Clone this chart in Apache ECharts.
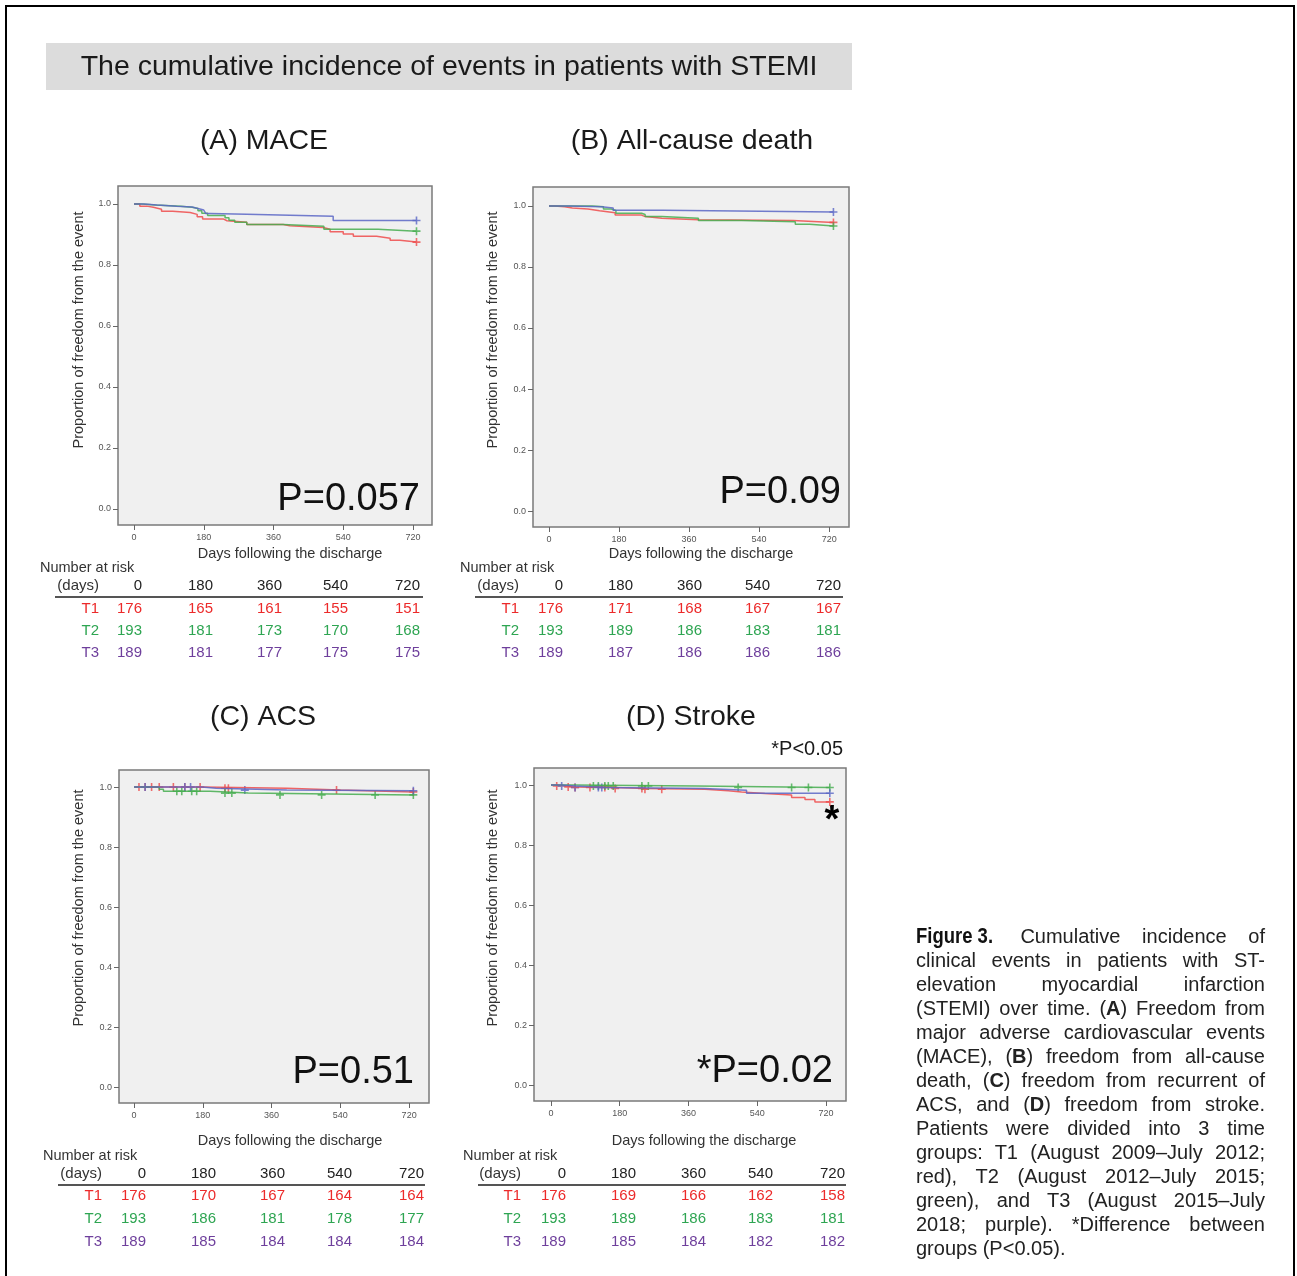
<!DOCTYPE html>
<html>
<head>
<meta charset="utf-8">
<title>The cumulative incidence of events in patients with STEMI</title>
<script src="https://cdn.jsdelivr.net/npm/echarts@6.0.0/dist/echarts.min.js"></script>
<style>
  html, body { margin: 0; padding: 0; background: #fff; }
  #main { position: absolute; left: 0; top: 0; width: 1297px; height: 1276px; }
  #frame { position: absolute; left: 5px; top: 5px; width: 1286px; height: 1300px;
           border: 2px solid #000; border-bottom: none; pointer-events: none; }
  #caption { position: absolute; left: 916px; top: 924px; width: 349px;
             font-family: "Liberation Sans", Arial, sans-serif; font-size: 20px;
             line-height: 24px; color: #222; }
  #caption div { text-align: justify; text-align-last: justify; }
  #caption div.last { text-align-last: left; }
  #caption .fig { display: inline-block; font-family: "Liberation Sans", Arial, sans-serif;
                  font-weight: bold; font-size: 22px; color: #111; transform: scaleX(0.84);
                  transform-origin: 0 50%; margin-right: -9px; }
</style>
</head>
<body>
<div id="main"></div>
<div id="frame"></div>
<div id="caption">
  <div><span class="fig">Figure 3.</span> Cumulative incidence of</div>
  <div>clinical events in patients with ST-</div>
  <div>elevation myocardial infarction</div>
  <div>(STEMI) over time. (<b>A</b>) Freedom from</div>
  <div>major adverse cardiovascular events</div>
  <div>(MACE), (<b>B</b>) freedom from all-cause</div>
  <div>death, (<b>C</b>) freedom from recurrent of</div>
  <div>ACS, and (<b>D</b>) freedom from stroke.</div>
  <div>Patients were divided into 3 time</div>
  <div>groups: T1 (August 2009–July 2012;</div>
  <div>red), T2 (August 2012–July 2015;</div>
  <div>green), and T3 (August 2015–July</div>
  <div>2018; purple). *Difference between</div>
  <div class="last">groups (P&lt;0.05).</div>
</div>
<script>
// tick values shared by all panels
const dayTicks = [0, 180, 360, 540, 720];
const propTicks = [0, 0.2, 0.4, 0.6, 0.8, 1.0];
const groups = ['T1', 'T2', 'T3'];

// (A) MACE - [day, proportion free of event]
const maceT1 = [[0,1],[15,0.993],[33,0.989],[50,0.983],[71,0.976],[100,0.972],[145,0.966],[163,0.958],[177,0.951],[230,0.945],[240,0.94],[291,0.933],[385,0.929],[402,0.923],[488,0.917],[506,0.909],[540,0.902],[566,0.894],[626,0.888],[661,0.881],[686,0.875],[729,0.875]];
const maceT2 = [[0,1],[20,0.997],[55,0.993],[120,0.989],[150,0.985],[165,0.978],[175,0.97],[190,0.962],[235,0.955],[245,0.947],[260,0.94],[291,0.933],[385,0.927],[490,0.917],[630,0.911],[729,0.911]];
const maceT3 = [[0,1],[25,0.997],[60,0.993],[110,0.99],[150,0.985],[165,0.98],[180,0.975],[185,0.969],[196,0.966],[291,0.96],[514,0.946],[729,0.946]];
const maceCensT1 = [729];
const maceCensT2 = [729];
const maceCensT3 = [729];

// (B) All-cause death
const deathT1 = [[0,1],[15,0.997],[40,0.993],[60,0.99],[100,0.984],[130,0.978],[170,0.97],[238,0.965],[247,0.96],[290,0.955],[384,0.952],[627,0.946],[731,0.946]];
const deathT2 = [[0,1],[110,0.997],[140,0.99],[160,0.985],[172,0.976],[238,0.972],[247,0.965],[290,0.96],[384,0.952],[495,0.948],[633,0.94],[670,0.934],[731,0.934]];
const deathT3 = [[0,1],[50,0.997],[135,0.993],[165,0.986],[294,0.98],[731,0.98]];
const deathCensT1 = [731];
const deathCensT2 = [731];
const deathCensT3 = [731];

// (C) ACS
const acsT1 = [[0,1],[178,0.996],[400,0.99],[537,0.984],[731,0.984]];
const acsT2 = [[0,1],[66,0.993],[77,0.986],[199,0.98],[299,0.974],[731,0.974]];
const acsT3 = [[0,1],[178,0.996],[215,0.99],[400,0.988],[731,0.988]];
const acsCensT1 = [13,29,46,66,103,133,173,238,247,530,731];
const acsCensT2 = [112,125,151,164,238,256,382,491,631,731];
const acsCensT3 = [29,133,148,290,731];

// (D) Stroke
const strokeT1 = [[0,1],[15,0.997],[45,0.994],[63,0.992],[168,0.989],[246,0.986],[403,0.981],[464,0.977],[499,0.972],[560,0.967],[630,0.959],[665,0.952],[691,0.944],[730,0.944]];
const strokeT2 = [[0,1],[60,0.997],[381,0.992],[730,0.992]];
const strokeT3 = [[0,1],[28,0.997],[63,0.992],[141,0.989],[400,0.983],[512,0.973],[730,0.973]];
const strokeCensT1 = [15,45,63,102,141,168,238,246,290,730];
const strokeCensT2 = [111,124,141,150,163,238,255,490,630,674,730];
const strokeCensT3 = [28,63,124,133,730];

// number at risk
const maceRiskT1 = [176,165,161,155,151];
const maceRiskT2 = [193,181,173,170,168];
const maceRiskT3 = [189,181,177,175,175];
const deathRiskT1 = [176,171,168,167,167];
const deathRiskT2 = [193,189,186,183,181];
const deathRiskT3 = [189,187,186,186,186];
const acsRiskT1 = [176,170,167,164,164];
const acsRiskT2 = [193,186,181,178,177];
const acsRiskT3 = [189,185,184,184,184];
const strokeRiskT1 = [176,169,166,162,158];
const strokeRiskT2 = [193,189,186,183,181];
const strokeRiskT3 = [189,185,184,182,182];

const lineColors = ['#ee4b4b', '#45ad4f', '#5a66c6'];
const textColors = ['#ec2a2a', '#2ea552', '#6e3f9c'];
const FONT = '"Liberation Sans", Arial, sans-serif';

const panels = [
  { title: '(A) MACE', titlePos: [264, 141], p: 'P=0.057', pPos: [420, 500],
    grid: { left: 118, top: 186, width: 314, height: 339 }, xr: [-41.3, 769], yr: [-0.0525, 1.059],
    curves: [maceT1, maceT2, maceT3], cens: [maceCensT1, maceCensT2, maceCensT3],
    risk: [maceRiskT1, maceRiskT2, maceRiskT3],
    yName: [79, 330], xName: [290, 554],
    tab: { narX: 40, narY: 568, head: 586, rows: [609, 631, 653], lab: 99, cols: [142, 213, 282, 348, 420], line: [55, 423, 597] } },
  { title: '(B) All-cause death', titlePos: [692, 141], p: 'P=0.09', pPos: [841, 493],
    grid: { left: 533, top: 187, width: 316, height: 340 }, xr: [-41.1, 771], yr: [-0.052, 1.062],
    curves: [deathT1, deathT2, deathT3], cens: [deathCensT1, deathCensT2, deathCensT3],
    risk: [deathRiskT1, deathRiskT2, deathRiskT3],
    yName: [493, 330], xName: [701, 554],
    tab: { narX: 460, narY: 568, head: 586, rows: [609, 631, 653], lab: 519, cols: [563, 633, 702, 770, 841], line: [475, 843, 597] } },
  { title: '(C) ACS', titlePos: [263, 717], p: 'P=0.51', pPos: [414, 1073],
    grid: { left: 119, top: 770, width: 310, height: 333 }, xr: [-39.3, 772], yr: [-0.053, 1.057],
    curves: [acsT1, acsT2, acsT3], cens: [acsCensT1, acsCensT2, acsCensT3],
    risk: [acsRiskT1, acsRiskT2, acsRiskT3],
    yName: [79, 908], xName: [290, 1141],
    tab: { narX: 43, narY: 1156, head: 1174, rows: [1196, 1219, 1242], lab: 102, cols: [146, 216, 285, 352, 424], line: [58, 425, 1185] } },
  { title: '(D) Stroke', titlePos: [691, 717], p: '*P=0.02', pPos: [833, 1072],
    grid: { left: 534, top: 768, width: 312, height: 333 }, xr: [-44.5, 772.4], yr: [-0.053, 1.057],
    curves: [strokeT1, strokeT2, strokeT3], cens: [strokeCensT1, strokeCensT2, strokeCensT3],
    risk: [strokeRiskT1, strokeRiskT2, strokeRiskT3],
    yName: [493, 908], xName: [704, 1141],
    tab: { narX: 463, narY: 1156, head: 1174, rows: [1196, 1219, 1242], lab: 521, cols: [566, 636, 706, 773, 845], line: [478, 846, 1185] } }
];

// value of a step curve at day t
function survAt(curve, t) {
  let v = curve[0][1];
  curve.forEach(([d, s]) => { if (d <= t) v = s; });
  return v;
}

function txt(x, y, text, size, opts) {
  opts = opts || {};
  return {
    type: 'text', x: x, y: y, rotation: opts.rotation || 0, silent: true,
    style: {
      text: text, fontSize: size, fontFamily: FONT, fontWeight: opts.weight || 'normal',
      fill: opts.color || '#1a1a1a', align: opts.align || 'center', verticalAlign: 'middle'
    }
  };
}

const grids = [], xAxes = [], yAxes = [], series = [];
const graphic = [
  { type: 'rect', shape: { x: 46, y: 43, width: 806, height: 47 }, style: { fill: '#dcdcdc' }, silent: true },
  txt(449, 67, 'The cumulative incidence of events in patients with STEMI', 28.5),
  txt(843, 749, '*P<0.05', 20, { align: 'right' }),
  txt(832, 822, '*', 38, { weight: 'bold', color: '#000' })
];

panels.forEach((pn, i) => {
  grids.push(Object.assign({ show: true, backgroundColor: '#f0f0f0', borderColor: '#7a7a7a', borderWidth: 1.5 }, pn.grid));
  xAxes.push({
    type: 'value', gridIndex: i, min: pn.xr[0], max: pn.xr[1], position: 'bottom',
    axisLine: { show: false, onZero: false }, splitLine: { show: false },
    axisTick: { show: true, length: 5, customValues: dayTicks, lineStyle: { color: '#666' } },
    axisLabel: { customValues: dayTicks, fontSize: 9, color: '#555', margin: 8, fontFamily: FONT }
  });
  yAxes.push({
    type: 'value', gridIndex: i, min: pn.yr[0], max: pn.yr[1], position: 'left',
    axisLine: { show: false, onZero: false }, splitLine: { show: false },
    axisTick: { show: true, length: 5, customValues: propTicks, lineStyle: { color: '#666' } },
    axisLabel: { customValues: propTicks, fontSize: 9, color: '#555', margin: 7, fontFamily: FONT,
                 formatter: v => v.toFixed(1) }
  });
  pn.curves.forEach((curve, g) => {
    series.push({
      type: 'line', step: 'end', xAxisIndex: i, yAxisIndex: i, data: curve,
      showSymbol: false, silent: true,
      lineStyle: { color: lineColors[g], width: 1.5, opacity: 0.85 }
    });
    series.push({
      type: 'scatter', xAxisIndex: i, yAxisIndex: i, silent: true,
      symbol: 'path://M4,0H6V4H10V6H6V10H4V6H0V4H4Z', symbolSize: 8,
      itemStyle: { color: lineColors[g] },
      data: pn.cens[g].map(t => [t, survAt(curve, t)])
    });
  });

  graphic.push(txt(pn.titlePos[0], pn.titlePos[1], pn.title, 28.5));
  graphic.push(txt(pn.pPos[0], pn.pPos[1], pn.p, 38, { align: 'right', color: '#111' }));
  graphic.push(txt(pn.yName[0], pn.yName[1], 'Proportion of freedom from the event', 14.5, { rotation: Math.PI / 2, color: '#333' }));
  graphic.push(txt(pn.xName[0], pn.xName[1], 'Days following the discharge', 14.5, { color: '#333' }));

  const t = pn.tab;
  graphic.push(txt(t.narX, t.narY, 'Number at risk', 14.5, { align: 'left', color: '#333' }));
  graphic.push(txt(t.lab, t.head, '(days)', 15, { align: 'right', color: '#333' }));
  dayTicks.forEach((d, c) => graphic.push(txt(t.cols[c], t.head, String(d), 15, { align: 'right', color: '#222' })));
  graphic.push({ type: 'line', silent: true, shape: { x1: t.line[0], y1: t.line[2], x2: t.line[1], y2: t.line[2] },
                 style: { stroke: '#555', lineWidth: 2 } });
  groups.forEach((gname, g) => {
    graphic.push(txt(t.lab, t.rows[g], gname, 15, { align: 'right', color: textColors[g] }));
    pn.risk[g].forEach((n, c) => graphic.push(txt(t.cols[c], t.rows[g], String(n), 15, { align: 'right', color: textColors[g] })));
  });
});

const chart = echarts.init(document.getElementById('main'), null, { renderer: 'canvas' });
chart.setOption({
  backgroundColor: '#ffffff',
  animation: false,
  textStyle: { fontFamily: FONT },
  grid: grids,
  xAxis: xAxes,
  yAxis: yAxes,
  series: series,
  graphic: graphic
});
</script>
</body>
</html>
